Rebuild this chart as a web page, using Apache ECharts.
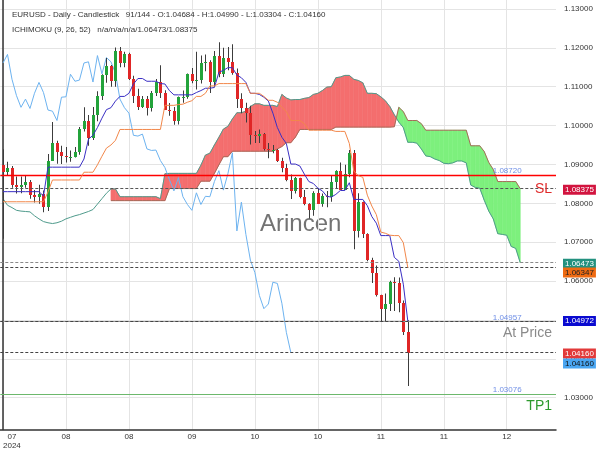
<!DOCTYPE html>
<html><head><meta charset="utf-8">
<script src="https://cdn.jsdelivr.net/npm/echarts@6.0.0/dist/echarts.min.js"></script>
<style>html,body{margin:0;padding:0;background:#fff;}#main{width:600px;height:450px;}</style>
</head><body><div id="main"></div>
<script>
// ---------- data ----------
const opens = [
1.0898,1.0880,1.0892,1.0846,1.0843,1.0848,1.0856,1.0821,1.0815,1.0825,
1.0790,1.0910,1.0954,1.0931,1.0922,1.0918,1.0918,1.0932,1.0992,1.1013,
1.0967,1.1027,1.1076,1.1130,1.1152,1.1114,1.1193,1.1161,1.1183,1.1119,
1.1077,1.1047,1.1068,1.1044,1.1083,1.1111,1.1085,1.1040,1.1037,1.1013,
1.1073,1.1074,1.1132,1.1114,1.1117,1.1161,1.1164,1.1112,1.1180,1.1133,
1.1175,1.1164,1.1135,1.1068,1.1046,1.1032,1.0975,1.0973,1.0978,1.0940,
1.0936,1.0937,1.0910,1.0892,1.0861,1.0832,1.0866,1.0817,1.0797,1.0782,
1.0827,1.0797,1.0818,1.0817,1.0856,1.0884,1.0834,1.0876,1.0930,1.0729,
1.0803,1.0720,1.0654,1.0622,1.0563,1.0529,1.0541,1.0597,1.0594,1.0543,
1.04684];
const highs = [
1.0939,1.0907,1.0896,1.0869,1.0869,1.0872,1.0860,1.0834,1.0848,1.0833,
1.0927,1.1009,1.0961,1.0948,1.0945,1.0936,1.0945,1.0996,1.1047,1.1027,
1.1048,1.1088,1.1132,1.1174,1.1156,1.1201,1.1202,1.1190,1.1187,1.1128,
1.1095,1.1076,1.1076,1.1089,1.1120,1.1155,1.1091,1.1058,1.1048,1.1075,
1.1090,1.1134,1.1148,1.1190,1.1180,1.1183,1.1168,1.1192,1.1214,1.1200,
1.1202,1.1209,1.1147,1.1083,1.1059,1.1051,1.0986,1.0990,1.0981,1.0955,
1.0950,1.0940,1.0917,1.0902,1.0874,1.0868,1.0866,1.0834,1.0800,1.0831,
1.0838,1.0825,1.0832,1.0871,1.0885,1.0905,1.0899,1.0937,1.0937,1.0826,
1.0805,1.0723,1.0660,1.0640,1.0565,1.0568,1.0601,1.0610,1.0609,1.0550,
1.04990];
const lows = [
1.0709,1.0873,1.0840,1.0825,1.0826,1.0840,1.0812,1.0802,1.0799,1.0777,
1.0780,1.0909,1.0902,1.0901,1.0905,1.0907,1.0918,1.0925,1.0985,1.0948,
1.0963,1.1011,1.1066,1.1110,1.1100,1.1100,1.1150,1.1150,1.1117,1.1058,
1.1040,1.1045,1.1026,1.1036,1.1076,1.1071,1.1040,1.1025,1.1002,1.1003,
1.1059,1.1069,1.1109,1.1093,1.1108,1.1140,1.1084,1.1100,1.1124,1.1125,
1.1142,1.1131,1.1045,1.1032,1.1008,1.0951,1.0955,1.0955,1.0936,1.0916,
1.0929,1.0906,1.0880,1.0857,1.0811,1.0825,1.0813,1.0795,1.0761,1.0768,
1.0800,1.0791,1.0790,1.0804,1.0838,1.0834,1.0834,1.0867,1.0682,1.0712,
1.0711,1.0651,1.0595,1.0560,1.0497,1.0496,1.0523,1.0523,1.0520,1.0461,
1.03304];
const closes = [
1.0881,1.0892,1.0846,1.0843,1.0848,1.0856,1.0821,1.0815,1.0825,1.0790,
1.0910,1.0954,1.0931,1.0922,1.0918,1.0918,1.0932,1.0992,1.1013,1.0967,
1.1027,1.1076,1.1130,1.1152,1.1114,1.1193,1.1161,1.1183,1.1119,1.1077,
1.1047,1.1068,1.1044,1.1083,1.1111,1.1085,1.1040,1.1037,1.1013,1.1073,
1.1074,1.1132,1.1114,1.1117,1.1161,1.1164,1.1112,1.1180,1.1133,1.1175,
1.1164,1.1135,1.1068,1.1046,1.1032,1.0975,1.0973,1.0978,1.0940,1.0936,
1.0937,1.0910,1.0892,1.0861,1.0832,1.0866,1.0817,1.0797,1.0782,1.0827,
1.0797,1.0818,1.0817,1.0856,1.0884,1.0834,1.0876,1.0930,1.0729,1.0803,
1.0720,1.0654,1.0622,1.0563,1.0529,1.0541,1.0597,1.0594,1.0543,1.0468,
1.04160];
const tenkan = [
1.0830,1.0830,1.0830,1.0830,1.0830,1.0830,1.0830,1.0830,1.0830,1.0819,
1.0893,1.0893,1.0893,1.0893,1.0893,1.0893,1.0893,1.0893,1.0914,1.0965,
1.0975,1.0995,1.1019,1.1041,1.1046,1.1063,1.1075,1.1075,1.1083,1.1107,
1.1121,1.1121,1.1114,1.1114,1.1114,1.1108,1.1107,1.1090,1.1079,1.1079,
1.1079,1.1079,1.1079,1.1085,1.1090,1.1096,1.1096,1.1098,1.1137,1.1142,
1.1149,1.1149,1.1130,1.1123,1.1111,1.1083,1.1083,1.1080,1.1073,1.1063,
1.1032,1.0995,1.0970,1.0954,1.0901,1.0901,1.0896,1.0875,1.0856,1.0851,
1.0839,1.0832,1.0818,1.0816,1.0823,1.0833,1.0833,1.0853,1.0810,1.0810,
1.0810,1.0794,1.0766,1.0749,1.0717,1.0717,1.0717,1.0661,1.0651,1.0592,
1.04972];
const kijun = [
1.0804,1.0804,1.0804,1.0804,1.0804,1.0804,1.0804,1.0804,1.0804,1.0804,
1.0829,1.0860,1.0860,1.0860,1.0860,1.0860,1.0860,1.0860,1.0880,1.0880,
1.0880,1.0899,1.0921,1.0942,1.0950,1.0962,1.0990,1.0990,1.0990,1.0990,
1.0990,1.0990,1.0990,1.0990,1.0990,1.0990,1.1052,1.1052,1.1052,1.1054,
1.1055,1.1060,1.1064,1.1075,1.1075,1.1083,1.1102,1.1102,1.1108,1.1108,
1.1108,1.1108,1.1108,1.1108,1.1108,1.1083,1.1083,1.1083,1.1075,1.1065,
1.1065,1.1060,1.1047,1.1036,1.1013,1.1013,1.1013,1.1005,1.0988,1.0988,
1.0988,1.0988,1.0988,1.0988,1.0985,1.0985,1.0985,1.0954,1.0883,1.0871,
1.0867,1.0821,1.0793,1.0771,1.0726,1.0723,1.0718,1.0717,1.0717,1.0699,
1.06347];
const spanA = [
1.0812,1.0795,1.0789,1.0782,1.0780,1.0779,1.0778,1.0768,1.0760,1.0753,
1.0750,1.0748,1.0750,1.0754,1.0760,1.0764,1.0768,1.0771,1.0775,1.0779,
1.0784,1.0798,1.0812,1.0826,1.0837,1.0837,1.0817,1.0817,1.0817,1.0817,
1.0817,1.0817,1.0817,1.0817,1.0817,1.0812,1.0876,1.0877,1.0877,1.0877,
1.0877,1.0877,1.0877,1.0877,1.0898,1.0924,1.0929,1.0950,1.0970,1.0991,
1.0998,1.1017,1.1033,1.1033,1.1037,1.1049,1.1056,1.1056,1.1052,1.1052,
1.1052,1.1049,1.1080,1.1071,1.1066,1.1067,1.1067,1.1070,1.1072,1.1080,
1.1083,1.1090,1.1099,1.1100,1.1123,1.1125,1.1129,1.1129,1.1119,1.1116,
1.1110,1.1083,1.1083,1.1082,1.1074,1.1064,1.1049,1.1028,1.1009,1.0995,
1.0957,1.0957,1.0955,1.0940,1.0922,1.0920,1.0914,1.0910,1.0903,1.0902,
1.0904,1.0909,1.0909,1.0904,1.0847,1.0841,1.0839,1.0808,1.0780,1.0760,
1.0722,1.0720,1.0718,1.0689,1.0684,1.06473];
const spanB = [
null,null,null,null,null,null,null,null,null,null,
null,null,null,null,null,null,null,null,null,null,
null,null,null,null,1.0807,1.0807,1.0807,1.0807,1.0807,1.0807,
1.0807,1.0807,1.0807,1.0807,1.0807,1.0807,1.0807,1.0838,1.0838,1.0838,
1.0838,1.0838,1.0838,1.0838,1.0857,1.0857,1.0857,1.0877,1.0899,1.0920,
1.0920,1.0934,1.0934,1.0934,1.0934,1.0934,1.0934,1.0934,1.0934,1.0934,
1.0934,1.0940,1.0946,1.0956,1.0956,1.0970,1.0990,1.0990,1.0990,1.0990,
1.0990,1.0990,1.0990,1.0990,1.0996,1.0996,1.0996,1.0996,1.0996,1.0996,
1.0996,1.0996,1.0996,1.0996,1.0996,1.0996,1.0996,1.0997,1.1047,1.1036,
1.1013,1.1013,1.1013,1.1005,1.0988,1.0988,1.0988,1.0988,1.0988,1.0988,
1.0988,1.0988,1.0988,1.0988,1.0948,1.0948,1.0948,1.0933,1.0905,1.0887,
1.0856,1.0856,1.0856,1.0856,1.0856,1.08375];
const chikouShift = 26;
const xTickIdx = [0,14,28,42,56,70,84,98,112];
const xTickText = ['07','08','08','09','10','10','11','11','12'];
const firstYear = '2024';
const yTicks = [1.03,1.04,1.05,1.06,1.07,1.08,1.09,1.10,1.11,1.12,1.13];
const lvlSLsolid = 1.08720, lvlSL = 1.08375, lvlSpanA = 1.06473, lvlKijun = 1.06347;
const lvlTenkan = 1.04972, lvlAtPrice = 1.04957, lvlClose = 1.04160, lvlTP1 = 1.03076;
const headerLine1 = 'EURUSD - Daily - Candlestick   91/144 - O:1.04684 - H:1.04990 - L:1.03304 - C:1.04160';
const headerLine2 = 'ICHIMOKU (9, 26, 52)   n/a/n/a/n/a/1.06473/1.08375';

// ---------- chart ----------
const X_MIN = -0.6, X_MAX = 122.95;
const FONT = '"Liberation Sans", Arial, sans-serif';
const chart = echarts.init(document.getElementById('main'), null, {renderer:'canvas'});

const candleData = opens.map((o,i)=>[i,o,highs[i],lows[i],closes[i]]);
const cloudData = [];
for (let i=0;i<spanA.length-1;i++){
  if (spanB[i]!=null && spanB[i+1]!=null) cloudData.push([i,spanA[i],spanB[i],spanA[i+1],spanB[i+1]]);
}
const RED='#f46e6e', GREEN='#7df07d';
function poly(pts,color){return {type:'polygon',shape:{points:pts},style:{fill:color,stroke:color,lineWidth:0.6}};}

function tag(val, bg, fg, dy){
  return {coord:[X_MAX,val], symbolSize:0,
    label:{show:true, position:'right', distance:7, offset:[0,dy||0], formatter:val.toFixed(5),
      backgroundColor:bg, color:fg, fontSize:8, fontFamily:FONT, padding:[1,2,0,2], lineHeight:9}};
}
function txt(xv, val, text, color, size, pos, dx, dy){
  return {coord:[xv,val], symbolSize:0,
    label:{show:true, position:pos, distance:0, offset:[dx,dy], formatter:text, color:color, fontSize:size, fontFamily:FONT}};
}

const option = {
  animation:false,
  backgroundColor:'#fff',
  textStyle:{fontFamily:FONT},
  title:[
    {text:headerLine1, left:7, top:6, textStyle:{fontSize:8, fontWeight:'normal', color:'#333', fontFamily:FONT}},
    {text:headerLine2, left:7, top:21, textStyle:{fontSize:8, fontWeight:'normal', color:'#333', fontFamily:FONT}}
  ],
  graphic:[{type:'text', left:260, top:212, z:0, style:{text:'Arincen', fontSize:24, fill:'rgba(100,100,100,0.9)', fontFamily:FONT}}],
  grid:{left:0, right:44, top:0, bottom:18, containLabel:false},
  xAxis:{type:'value', min:X_MIN, max:X_MAX,
    axisLine:{show:true, onZero:false, lineStyle:{color:'#333', width:1.5}},
    axisTick:{show:false, customValues:xTickIdx},
    splitLine:{show:true, lineStyle:{color:'#e4e4e4', width:1}},
    axisLabel:{customValues:xTickIdx, margin:3, fontSize:8, color:'#333', fontFamily:FONT, alignMinLabel:'left',
      formatter:(v)=>{const k=xTickIdx.indexOf(Math.round(v)); if(k===0) return '{a|'+xTickText[0]+'}\n{a|'+firstYear+'}'; return k>=0?xTickText[k]:'';},
      rich:{a:{align:'center', fontSize:8, color:'#333', lineHeight:9, fontFamily:FONT}}}
  },
  yAxis:{type:'value', position:'right', min:1.02182, max:1.13230,
    axisLine:{show:true, lineStyle:{color:'#333', width:1.5}},
    axisTick:{show:false, customValues:yTicks},
    splitLine:{show:true, lineStyle:{color:'#e4e4e4', width:1}},
    axisLabel:{customValues:yTicks, margin:8, fontSize:8, color:'#333', fontFamily:FONT, formatter:(v)=>v.toFixed(5)}
  },
  series:[
    {type:'custom', name:'cloud', z:1, silent:true, data:cloudData, clip:true,
      renderItem:(params, api)=>{
        const i=api.value(0), a0=api.value(1), b0=api.value(2), a1=api.value(3), b1=api.value(4);
        const d0=a0-b0, d1=a1-b1;
        const A0=api.coord([i,a0]),B0=api.coord([i,b0]),A1=api.coord([i+1,a1]),B1=api.coord([i+1,b1]);
        if (d0*d1>=0){
          const c=(d0+d1)>=0?RED:GREEN;
          return poly([A0,A1,B1,B0],c);
        }
        const t=d0/(d0-d1); const xc=i+t, yc=a0+(a1-a0)*t; const C=api.coord([xc,yc]);
        return {type:'group',children:[poly([A0,C,B0], d0>0?RED:GREEN), poly([C,A1,B1], d1>0?RED:GREEN)]};
      }},
    {type:'line', name:'spanA', z:2, silent:true, showSymbol:false, data:spanA.map((v,i)=>[i,v]),
      lineStyle:{color:'#4f9b8c', width:1}},
    {type:'line', name:'spanB', z:2, silent:true, showSymbol:false, data:spanB.map((v,i)=>[i,v]).filter(p=>p[1]!=null),
      lineStyle:{color:'#a86a5a', width:1}},
    {type:'line', name:'chikou', z:3, silent:true, showSymbol:false, data:closes.slice(chikouShift).map((v,j)=>[j,v]),
      lineStyle:{color:'#6db3f0', width:1}},
    {type:'custom', name:'candles', z:4, silent:true, data:candleData,
      renderItem:(params, api)=>{
        const i=api.value(0), o=api.value(1), h=api.value(2), l=api.value(3), c=api.value(4);
        const pO=api.coord([i,o]), pC=api.coord([i,c]), pH=api.coord([i,h]), pL=api.coord([i,l]);
        const xc=Math.round(pO[0])+0.5;
        const top=Math.round(Math.min(pO[1],pC[1])), bot=Math.round(Math.max(pO[1],pC[1]));
        return {type:'group', children:[
          {type:'rect', shape:{x:xc-0.5, y:pH[1], width:1, height:pL[1]-pH[1]}, style:{fill:'#3c3c3c'}},
          {type:'rect', shape:{x:xc-1.5, y:top, width:3, height:Math.max(1,bot-top)}, style:{fill:c>=o?'#23a33b':'#e02626'}}
        ]};
      }},
    {type:'line', name:'tenkan', z:5, silent:true, showSymbol:false, data:tenkan.map((v,i)=>[i,v]),
      lineStyle:{color:'#3a2fc4', width:1}},
    {type:'line', name:'kijun', z:5, silent:true, showSymbol:false, data:kijun.map((v,i)=>[i,v]),
      lineStyle:{color:'#f2874a', width:1},
      markLine:{silent:true, symbol:['none','none'], precision:5, label:{show:false}, animation:false,
        data:[
          {yAxis:lvlSLsolid, lineStyle:{color:'#ff0000', type:'solid', width:1.3, opacity:1}},
          {yAxis:lvlSL, lineStyle:{color:'#555', type:[3,2], width:1}},
          {yAxis:lvlSpanA, lineStyle:{color:'#888', type:[3,2], width:1}},
          {yAxis:lvlKijun, lineStyle:{color:'#444', type:[3,2], width:1}},
          {yAxis:lvlAtPrice, lineStyle:{color:'#999', type:'solid', width:1}},
          {yAxis:lvlTenkan, lineStyle:{color:'#444', type:[3,2], width:1}},
          {yAxis:lvlClose, lineStyle:{color:'#444', type:[3,2], width:1}},
          {yAxis:lvlTP1, lineStyle:{color:'#6cb86c', type:'solid', width:1.2}}
        ]},
      markPoint:{silent:true, symbol:'rect', precision:5, animation:false,
        data:[
          tag(lvlSL,'#d2143f','#fff',1),
          tag(lvlSpanA,'#23917f','#fff',1),
          tag(lvlKijun,'#ee6a12','#222',5),
          tag(lvlTenkan,'#0a0ad0','#fff',0),
          tag(lvlClose,'#e23a3a','#fff',1),
          tag(lvlClose,'#4aa6f2','#111',11),
          txt(112.1,lvlSLsolid,'1.08720','#6f8fe6',8,'inside',0,-5),
          txt(112.1,lvlAtPrice,'1.04957','#6f8fe6',8,'inside',0,-4),
          txt(112.1,lvlTP1,'1.03076','#6f8fe6',8,'inside',0,-5),
          txt(X_MAX,lvlSL,'SL','#e02a2a',14,'left',-4,0),
          txt(X_MAX,lvlAtPrice,'At Price','#8a8a8a',14,'left',-4,12),
          txt(X_MAX,lvlTP1,'TP1','#2e9a2e',14,'left',-4,11)
        ]}
    }
  ]
};
chart.setOption(option);
</script></body></html>
